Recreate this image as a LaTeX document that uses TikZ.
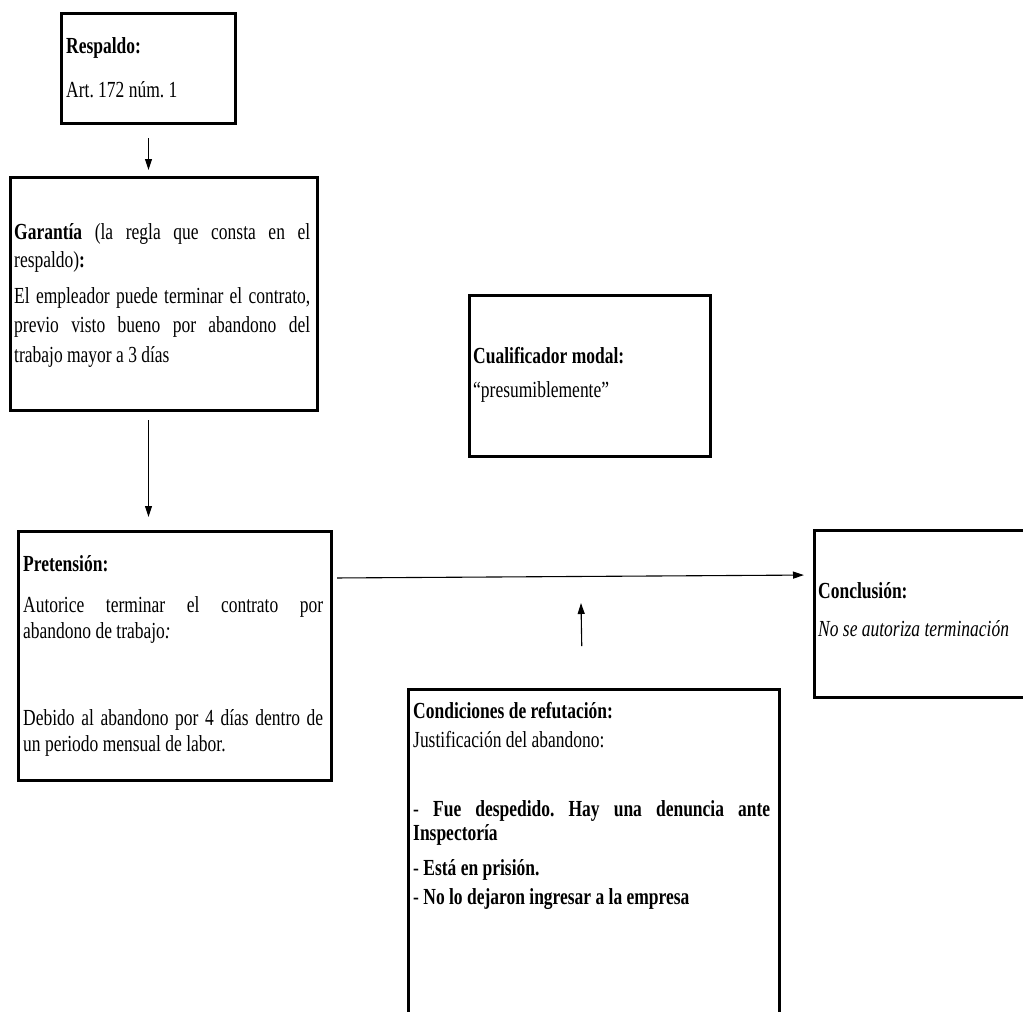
\documentclass[tikz,border=0pt]{standalone}
\usepackage{fontspec}
\setmainfont{Liberation Serif}[FakeStretch=0.76]
\usetikzlibrary{arrows.meta}
\frenchspacing
\hyphenpenalty=10000
\exhyphenpenalty=10000

\begin{document}
\begin{tikzpicture}[x=1pt,y=-1pt,
  box/.style={draw, line width=3pt, inner sep=0pt, anchor=north west},
  txt/.style={anchor=base west, inner sep=0pt, align=left,
    font=\fontsize{23}{29.5}\selectfont},
  para/.style 2 args={anchor=base west, inner sep=0pt, text width=#1, align=justify,
    font=\fontsize{23}{#2}\selectfont},
  arr/.style={line width=1.1pt, -{Triangle[length=11pt,width=7pt]}}]
\useasboundingbox (0,0) rectangle (1023,1012);
\clip (0,0) rectangle (1023,1012);

% boxes
\node[box, minimum width=174pt, minimum height=110pt] (resp) at (60,12) {};
\node[box, minimum width=307pt, minimum height=233pt] (gar)  at (9,176) {};
\node[box, minimum width=313pt, minimum height=249pt] (pre)  at (17,530) {};
\node[box, minimum width=241pt, minimum height=161pt] (cual) at (468,294) {};
\node[box, minimum width=240pt, minimum height=167pt] (con)  at (813,529) {};
\node[box, minimum width=371pt, minimum height=360pt] (cond) at (407,688) {};

% Respaldo
\node[txt] (respT) at (66,53) {\textbf{Respaldo:}};
\node[txt] (respB) at (66,97) {Art. 172 núm. 1};

% Garantía
\node[para={296pt}{28}] (garT) at (14,239)
  {\textbf{Garantía} (la regla que consta en el\linebreak respaldo)\textbf{:}};
\node[para={296pt}{29.5}] (garB) at (14,303)
  {El empleador puede terminar el contrato,\linebreak previo visto bueno por abandono del\linebreak trabajo mayor a 3 días};

% Pretensión
\node[txt] (preT) at (23,571) {\textbf{Pretensión:}};
\node[para={300pt}{26}] (preA) at (23,612)
  {Autorice terminar el contrato por\linebreak abandono de trabajo\textit{:}};
\node[para={300pt}{26}] (preB) at (23,725)
  {Debido al abandono por 4 días dentro de\linebreak un periodo mensual de labor.};

% Cualificador modal
\node[txt] (cualT) at (473,363) {\textbf{Cualificador modal:}};
\node[txt] (cualB) at (473,397) {“presumiblemente”};

% Conclusión
\node[txt] (conT) at (818,598) {\textbf{Conclusión:}};
\node[txt] (conB) at (818,636) {\textit{No se autoriza terminación}};

% Condiciones de refutación
\node[txt] (condT) at (413,718) {\textbf{Condiciones de refutación:}};
\node[txt] (condJ) at (413,747) {Justificación del abandono:};
\node[para={357pt}{24}] (condA) at (413,816)
  {- \textbf{Fue despedido. Hay una denuncia ante}\linebreak\textbf{Inspectoría}};
\node[txt] (condB) at (413,875) {- \textbf{Está en prisión.}};
\node[txt] (condC) at (413,904) {- \textbf{No lo dejaron ingresar a la empresa}};

% connectors
\coordinate (rebut) at (581,603);
\draw[arr, shorten <=13pt, shorten >=6pt] (resp.south) -- (resp.south |- gar.north);
\draw[arr, shorten <=8pt, shorten >=13pt] (gar.south -| resp.south) -- (pre.north -| resp.south);
\draw[arr, shorten <=4pt, shorten >=9pt] ([yshift=-48pt]pre.north east) -- ([yshift=-46pt]con.north west);
\draw[arr, shorten <=42pt] ([xshift=-11.5pt]cond.north) -- (rebut);
\end{tikzpicture}
\end{document}
